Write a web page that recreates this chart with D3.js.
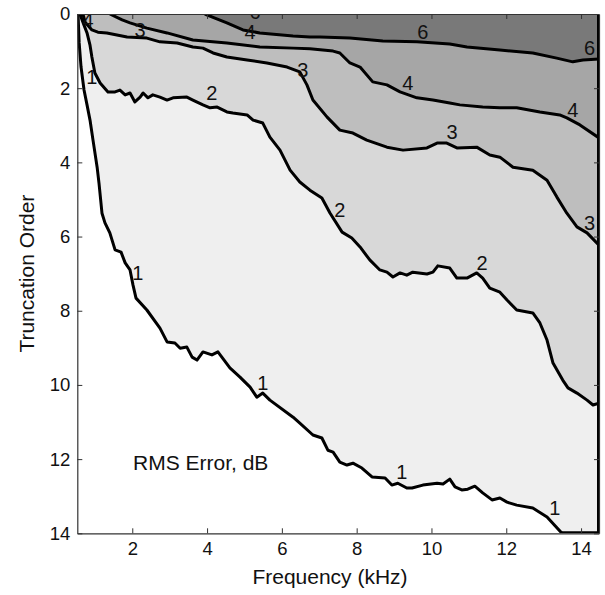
<!DOCTYPE html>
<html>
<head>
<meta charset="utf-8">
<script src="https://cdn.jsdelivr.net/npm/d3@7"></script>
<style>
  body { margin: 0; background: #fff; }
  svg { display: block; font-family: Arial, "Liberation Sans", sans-serif; }
</style>
</head>
<body>
<svg id="chart" width="605" height="595"></svg>
<script>
// axis extents and ticks
const freqDomain = [0.53, 14.48];
const orderDomain = [0, 14];
const freqTicks = [2, 4, 6, 8, 10, 12, 14];
const orderTicks = [0, 2, 4, 6, 8, 10, 12, 14];

// contour levels (RMS error, dB) and their lines as [frequency kHz, truncation order]
const levels = [1, 2, 3, 4, 6];

const contour1 = [[0.55,0],[0.58,0.78],[0.63,1.43],[0.71,2.05],[0.79,2.45],[0.87,2.86],[0.95,3.40],
  [1.06,4.13],[1.11,4.56],[1.19,5.37],[1.27,5.63],[1.40,5.90],[1.54,6.36],[1.70,6.42],[1.81,6.71],
  [1.94,6.90],[2.02,7.31],[2.10,7.66],[2.39,7.98],[2.74,8.47],[2.93,8.84],[3.14,8.87],[3.28,9.01],
  [3.46,8.98],[3.60,9.25],[3.73,9.33],[3.89,9.11],[4.13,9.19],[4.29,9.11],[4.61,9.54],[4.88,9.79],
  [5.15,10.06],[5.33,10.33],[5.49,10.22],[5.68,10.41],[6.30,10.87],[6.48,11.03],[6.83,11.35],
  [7.07,11.43],[7.23,11.76],[7.37,11.81],[7.55,12.08],[7.74,12.16],[7.90,12.11],[8.14,12.24],
  [8.41,12.48],[8.76,12.51],[8.94,12.70],[9.10,12.65],[9.34,12.78],[9.48,12.78],[9.77,12.70],
  [10.15,12.65],[10.31,12.67],[10.49,12.54],[10.63,12.75],[10.81,12.83],[10.97,12.81],[11.16,12.73],
  [11.37,12.91],[11.62,13.10],[11.83,13.05],[12.02,13.16],[12.28,13.24],[12.71,13.32],[13.09,13.56],
  [13.49,14]];

const contour2 = [[0.60,0],[0.71,0.30],[0.79,0.51],[0.87,0.84],[0.92,1.16],[1.00,1.59],[1.14,1.86],
  [1.35,2.10],[1.54,2.10],[1.67,2.05],[1.81,2.18],[1.94,2.13],[2.07,2.37],[2.21,2.24],[2.29,2.13],
  [2.42,2.26],[2.55,2.18],[2.74,2.24],[2.93,2.32],[3.09,2.26],[3.46,2.24],[3.62,2.32],[3.89,2.45],
  [4.08,2.53],[4.27,2.51],[4.53,2.64],[4.69,2.67],[5.07,2.72],[5.23,2.86],[5.49,2.94],[5.68,3.32],
  [5.95,3.67],[6.22,4.21],[6.48,4.53],[6.75,4.75],[7.07,4.96],[7.29,5.37],[7.61,5.88],[7.87,6.04],
  [8.09,6.28],[8.35,6.63],[8.62,6.90],[8.81,6.96],[8.97,7.09],[9.16,6.98],[9.34,7.04],[9.50,6.96],
  [9.88,7.01],[10.04,6.96],[10.17,6.79],[10.49,6.85],[10.68,7.12],[10.95,7.12],[11.21,6.98],
  [11.37,7.12],[11.56,7.39],[11.83,7.50],[12.02,7.71],[12.28,7.98],[12.71,8.06],[12.90,8.33],
  [13.09,8.79],[13.25,9.41],[13.51,9.87],[13.65,10.08],[13.89,10.22],[14.16,10.41],[14.32,10.54],
  [14.48,10.49]];

const contour3 = [[0.68,0],[0.74,0.22],[0.92,0.43],[1.08,0.49],[1.32,0.51],[1.86,0.62],[2.39,0.65],
  [2.74,0.75],[3.20,0.78],[3.62,0.89],[3.89,0.92],[4.16,1.05],[4.53,1.16],[5.07,1.24],[5.60,1.32],
  [6.14,1.43],[6.48,1.56],[6.67,1.91],[6.83,2.32],[7.21,2.78],[7.55,3.13],[7.90,3.21],[8.27,3.40],
  [8.81,3.59],[9.24,3.67],[9.88,3.61],[10.15,3.48],[10.41,3.48],[10.68,3.61],[11.21,3.59],
  [11.56,3.80],[11.83,3.86],[12.18,4.13],[12.71,4.21],[13.09,4.48],[13.35,4.93],[13.62,5.37],
  [13.89,5.74],[14.16,5.90],[14.48,6.23]];

const contour4 = [[1.40,0],[1.73,0.16],[1.94,0.24],[2.39,0.38],[2.93,0.51],[3.62,0.70],[4.53,0.78],
  [5.41,0.89],[6.30,0.92],[6.75,0.94],[7.37,1.00],[7.55,1.05],[7.82,1.32],[8.09,1.43],[8.43,1.83],
  [8.81,1.91],[9.16,2.10],[9.61,2.26],[10.04,2.32],[10.49,2.40],[10.76,2.45],[11.37,2.51],
  [11.83,2.53],[12.28,2.53],[12.90,2.64],[13.43,2.72],[13.62,2.80],[13.97,2.99],[14.48,3.34]];

const contour6 = [[3.94,0],[4.21,0.11],[4.53,0.24],[4.96,0.43],[5.41,0.51],[6.30,0.59],[6.75,0.62],
  [7.02,0.62],[7.82,0.65],[8.70,0.73],[9.61,0.75],[10.49,0.81],[10.95,0.89],[11.83,0.97],
  [12.71,1.05],[13.35,1.19],[13.78,1.29],[14.05,1.24],[14.48,1.21]];

const contours = [contour1, contour2, contour3, contour4, contour6];

// inline contour labels
const labelText  = ["4", "3", "6", "4", "6", "6", "3", "4", "4", "2", "1", "3", "3", "2", "2", "1", "1", "1", "1"];
const labelFreq  = [0.82, 2.21, 5.28, 5.15, 9.77, 14.23, 6.56, 9.37, 13.78, 4.13, 0.92, 10.55, 14.23, 7.55, 11.35, 2.15, 5.49, 9.21, 13.30];
const labelOrder = [0.16, 0.43, -0.05, 0.49, 0.49, 0.92, 1.51, 1.86, 2.59, 2.13, 1.70, 3.18, 5.63, 5.28, 6.71, 6.98, 9.95, 12.35, 13.32];

// fill shade above each level
const fills = ["#efefef", "#d8d8d8", "#bebebe", "#a6a6a6", "#797979"];

const svg = d3.select("#chart");

const x = d3.scaleLinear().domain(freqDomain).range([77.3, 599]);
const y = d3.scaleLinear().domain(orderDomain).range([14, 533.3]);

svg.append("defs").append("clipPath").attr("id", "plot")
  .append("rect")
  .attr("x", x(freqDomain[0])).attr("y", y(0))
  .attr("width", x(freqDomain[1]) - x(freqDomain[0]))
  .attr("height", y(14) - y(0));

const plot = svg.append("g").attr("clip-path", "url(#plot)");

const line = d3.line().x(d => x(d[0])).y(d => y(d[1]));

// region above each level: the contour closed along the right/top edges
function region(pts) {
  const p = pts.slice();
  const last = p[p.length - 1];
  if (last[1] >= orderDomain[1]) p.push([freqDomain[1], orderDomain[1]]);
  p.push([freqDomain[1], orderDomain[0]]);
  return p;
}

plot.selectAll("path.fill")
  .data(contours)
  .join("path")
  .attr("class", "fill")
  .attr("d", d => line(region(d)) + "Z")
  .attr("fill", (d, i) => fills[i])
  .attr("stroke", "none");

plot.selectAll("path.level")
  .data(contours)
  .join("path")
  .attr("class", "level")
  .attr("d", line)
  .attr("fill", "none")
  .attr("stroke", "#000")
  .attr("stroke-width", 3)
  .attr("stroke-linejoin", "round");

// patch edge along bottom-right and right border
const end1 = contour1[contour1.length - 1];
plot.append("path")
  .attr("d", line([end1, [freqDomain[1], orderDomain[1]], [freqDomain[1], orderDomain[0]]]))
  .attr("fill", "none")
  .attr("stroke", "#000")
  .attr("stroke-width", 4);

plot.selectAll("text.clabel")
  .data(labelText)
  .join("text")
  .attr("class", "clabel")
  .attr("x", (d, i) => x(labelFreq[i]))
  .attr("y", (d, i) => y(labelOrder[i]))
  .attr("dy", "0.36em")
  .attr("text-anchor", "middle")
  .attr("font-size", 20)
  .attr("fill", "#111")
  .text(d => d);

// axes, ticks pointing inward on all four sides
function styleAxis(g) {
  g.select(".domain").attr("stroke", "#333").attr("stroke-width", 1.2);
  g.selectAll(".tick line").attr("stroke", "#333").attr("stroke-width", 1);
  g.selectAll(".tick text").attr("fill", "#111").attr("font-size", 18.5)
    .attr("font-family", "Arial, 'Liberation Sans', sans-serif");
}

svg.append("g")
  .attr("transform", `translate(0,${y(14)})`)
  .call(d3.axisBottom(x).tickValues(freqTicks).tickSizeInner(-5).tickSizeOuter(0).tickPadding(9))
  .call(styleAxis);

svg.append("g")
  .attr("transform", `translate(0,${y(0)})`)
  .call(d3.axisTop(x).tickValues(freqTicks).tickSizeInner(-5).tickSizeOuter(0).tickFormat(""))
  .call(styleAxis);

svg.append("g")
  .attr("transform", `translate(${x(freqDomain[0])},0)`)
  .call(d3.axisLeft(y).tickValues(orderTicks).tickSizeInner(-5).tickSizeOuter(0).tickPadding(7))
  .call(styleAxis);

svg.append("g")
  .attr("transform", `translate(${x(freqDomain[1])},0)`)
  .call(d3.axisRight(y).tickValues(orderTicks).tickSizeInner(-5).tickSizeOuter(0).tickFormat(""))
  .call(styleAxis);

// titles
svg.append("text")
  .attr("x", 330).attr("y", 584)
  .attr("text-anchor", "middle")
  .attr("font-size", 21)
  .attr("fill", "#111")
  .text("Frequency (kHz)");

svg.append("text")
  .attr("transform", `translate(34,${(y(0) + y(14)) / 2}) rotate(-90)`)
  .attr("text-anchor", "middle")
  .attr("font-size", 21)
  .attr("fill", "#111")
  .text("Truncation Order");

svg.append("text")
  .attr("x", 133).attr("y", 470)
  .attr("font-size", 21)
  .attr("fill", "#111")
  .text("RMS Error, dB");
</script>
</body>
</html>
